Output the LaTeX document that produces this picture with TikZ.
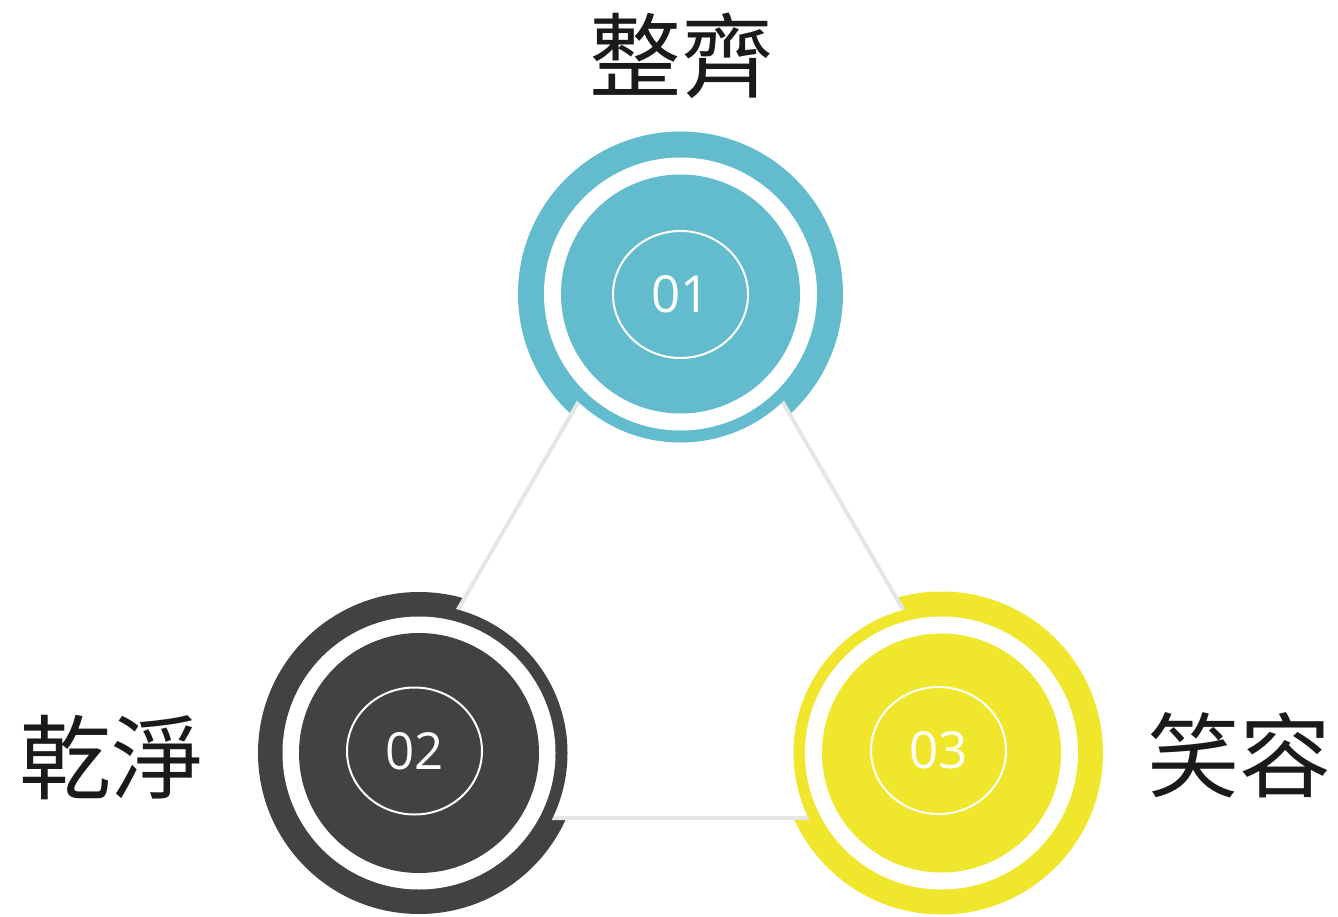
\documentclass[tikz,border=0pt]{standalone}
\usepackage{fontspec}
\usetikzlibrary{shapes.geometric}
\newfontfamily\cjk{Noto Sans CJK TC}
\newfontfamily\numfont{Open Sans}
\definecolor{tealA}{HTML}{62BCCE}
\definecolor{darkA}{HTML}{424242}
\definecolor{yelA}{HTML}{F0E62B}
\definecolor{triA}{HTML}{E6E6E6}
\definecolor{txtA}{HTML}{1A1A1A}
\tikzset{
  numell/.style={ellipse, draw=white, line width=2pt, minimum width=135pt, minimum height=127pt, inner sep=0pt, text=white, font=\numfont\fontsize{51}{51}\selectfont},
  lbl/.style={inner sep=0pt, text=txtA, font=\cjk\fontsize{92}{92}\selectfont},
  triline/.style={draw=triA, line width=4pt, fill=white, line join=miter}
}
\begin{document}
\begin{tikzpicture}[x=1pt,y=-1pt]
\useasboundingbox[fill=white] (0,0) rectangle (1338,917);
\coordinate (c1) at (680.5,294);
\coordinate (c2) at (419,753);
\coordinate (c3) at (941.5,753);
% outer rings
\fill[tealA] (c1) circle (162.5);
\fill[darkA] (c2) circle (161);
\fill[yelA] (c3) circle (161.5);
% triangle
\coordinate (t1) at (680.5,226);
\coordinate (t2) at (337,818);
\coordinate (t3) at (1024,818);
\draw[triline] (t1) -- (t2) -- (t3) -- cycle;
% middle rings
\fill[tealA] (c1) circle (148.5);
\fill[darkA] (c2) circle (148.5);
\fill[yelA] (c3) circle (148);
\fill[white] (c1) circle (136.5);
\fill[white] (c2) circle (136.5);
\fill[white] (c3) circle (136.5);
\fill[tealA] (c1) circle (119.5);
\fill[darkA] (c2) circle (120);
\fill[yelA] (c3) circle (119.5);
% numbers
\node[numell] (e1) at (680.5,294.5) {01};
\node[numell] (e2) at (414.5,751) {02};
\node[numell] (e3) at (938.5,750.5) {03};
% labels
\node[lbl] (l1) at (681,56) {整齊};
\node[lbl] (l2) at (111,757.5) {乾淨};
\node[lbl] (l3) at (1239,755) {笑容};
\end{tikzpicture}
\end{document}
